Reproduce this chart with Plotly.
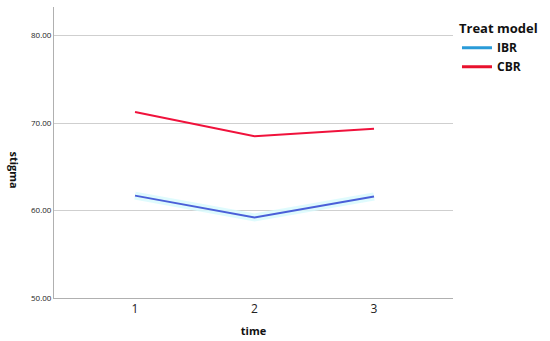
import plotly.graph_objects as go

time = [1, 2, 3]
ibr = [61.7, 59.2, 61.6]
cbr = [71.25, 68.5, 69.35]
y_ticks = [50, 60, 70, 80]
y_tick_labels = ["50.00", "60.00", "70.00", "80.00"]

fig = go.Figure()
# faint glow behind IBR line
fig.add_trace(go.Scatter(x=time, y=ibr, mode="lines",
                         line=dict(color="rgba(215,250,252,0.8)", width=8),
                         showlegend=False, hoverinfo="skip"))
fig.add_trace(go.Scatter(x=time, y=ibr, mode="lines",
                         line=dict(color="#4a5fd8", width=2),
                         showlegend=False))
fig.add_trace(go.Scatter(x=time, y=cbr, mode="lines",
                         line=dict(color="#f0123c", width=2),
                         showlegend=False))
# legend entries
fig.add_trace(go.Scatter(x=[None], y=[None], mode="lines", name="<b>IBR</b>",
                         line=dict(color="#2a9bd8", width=3)))
fig.add_trace(go.Scatter(x=[None], y=[None], mode="lines", name="<b>CBR</b>",
                         line=dict(color="#e8112d", width=3)))

fig.update_layout(
    width=550, height=341,
    margin=dict(l=54, r=97, t=7, b=43, autoexpand=False),
    plot_bgcolor="white", paper_bgcolor="white",
    font=dict(family="Open Sans", color="#222"),
    legend=dict(
        title=dict(text="<b>Treat model</b>", font=dict(size=13, color="#111")),
        x=1.01, y=0.968, xanchor="left", yanchor="top",
        font=dict(size=12, color="#111"),
        itemwidth=30, tracegroupgap=0,
    ),
    xaxis=dict(
        range=[0.322, 3.661], tickvals=time, ticktext=["1", "2", "3"],
        showgrid=False, zeroline=False, automargin=False,
        showline=True, linecolor="#b0b0b0", linewidth=1,
        ticks="", tickfont=dict(size=12, color="#222"),
        title=dict(text="<b>time</b>", font=dict(size=11, color="#111"), standoff=10),
    ),
    yaxis=dict(
        range=[50, 83.26], tickvals=y_ticks, ticktext=y_tick_labels,
        showgrid=True, gridcolor="#cfcfcf", gridwidth=1, zeroline=False,
        showline=True, linecolor="#b0b0b0", linewidth=1, automargin=False,
        ticks="", tickfont=dict(size=8, color="#222"),
    ),
    annotations=[dict(text="<b>stigma</b>", textangle=90,
                      x=(5 - 54) / (550 - 54 - 97),
                      y=(341 - 43 - 170) / (341 - 7 - 43),
                      xref="paper", yref="paper", showarrow=False,
                      font=dict(size=11, color="#111"))],
)

fig.write_html("out.html", config={"displayModeBar": False},
               post_script="document.body.style.margin='0';document.body.style.padding='0';")
